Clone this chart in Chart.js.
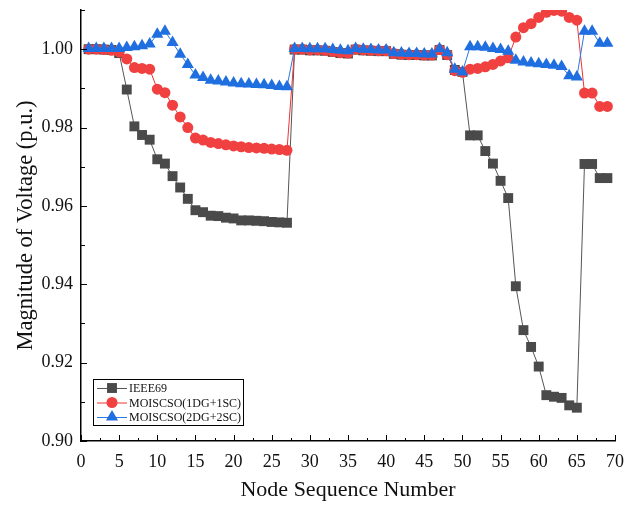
<!DOCTYPE html>
<html>
<head>
<meta charset="utf-8">
<script src="https://cdn.jsdelivr.net/npm/chart.js@4/dist/chart.umd.min.js"></script>
<style>
  html, body { margin: 0; padding: 0; background: #fff; }
  #wrap { width: 635px; height: 507px; }
</style>
</head>
<body>
<div id="wrap"><canvas id="voltage"></canvas></div>
<script>
var nodes = [1,2,3,4,5,6,7,8,9,10,11,12,13,14,15,16,17,18,19,20,21,22,23,24,25,26,27,28,29,30,
  31,32,33,34,35,36,37,38,39,40,41,42,43,44,45,46,47,48,49,50,51,52,53,54,55,56,57,58,59,60,
  61,62,63,64,65,66,67,68,69];

var ieee69 = [1.0000,1.0000,0.9999,0.9998,0.9990,0.9897,0.9803,0.9781,0.9769,0.9719,
  0.9708,0.9676,0.9647,0.9618,0.9589,0.9584,0.9575,0.9574,0.9570,0.9568,
  0.9563,0.9563,0.9562,0.9561,0.9559,0.9558,0.9557,0.9999,0.9999,0.9997,
  0.9997,0.9996,0.9993,0.9990,0.9989,0.9999,0.9997,0.9996,0.9995,0.9995,
  0.9988,0.9986,0.9985,0.9985,0.9984,0.9984,0.9998,0.9985,0.9947,0.9942,
  0.9780,0.9780,0.9740,0.9708,0.9664,0.9620,0.9395,0.9283,0.9240,0.9190,
  0.9117,0.9113,0.9110,0.9091,0.9085,0.9707,0.9707,0.9671,0.9671];

var dg1sc1 = [1.0000,1.0000,0.9999,0.9997,0.9993,0.9975,0.9953,0.9951,0.9949,0.9898,
  0.9889,0.9857,0.9827,0.9800,0.9773,0.9768,0.9762,0.9759,0.9756,0.9753,
  0.9751,0.9749,0.9748,0.9747,0.9745,0.9744,0.9742,1.0000,1.0000,0.9998,
  0.9998,0.9997,0.9994,0.9991,0.9990,1.0000,0.9998,0.9997,0.9996,0.9996,
  0.9989,0.9987,0.9986,0.9986,0.9985,0.9985,0.9999,0.9986,0.9945,0.9941,
  0.9949,0.9951,0.9955,0.9961,0.9970,0.9978,1.0031,1.0055,1.0065,1.0081,
  1.0094,1.0099,1.0097,1.0081,1.0074,0.9888,0.9888,0.9854,0.9854];

var dg2sc2 = [1.0002,1.0002,1.0002,1.0002,1.0002,1.0004,1.0006,1.0009,1.0013,1.0038,
  1.0046,1.0017,0.9987,0.9961,0.9934,0.9928,0.9921,0.9919,0.9916,0.9914,
  0.9912,0.9911,0.9910,0.9909,0.9907,0.9905,0.9904,1.0002,1.0002,1.0001,
  1.0001,1.0001,0.9999,0.9997,0.9996,1.0002,1.0000,0.9999,0.9998,0.9998,
  0.9991,0.9990,0.9989,0.9989,0.9988,0.9988,1.0001,0.9991,0.9949,0.9942,
  1.0006,1.0006,1.0005,1.0002,0.9999,0.9995,0.9972,0.9967,0.9965,0.9963,
  0.9961,0.9959,0.9956,0.9932,0.9929,1.0046,1.0046,1.0015,1.0015];

var xTicks = [0,5,10,15,20,25,30,35,40,45,50,55,60,65,70];
var yTicks = [0.90,0.92,0.94,0.96,0.98,1.00];

var serif = "'Times New Roman', 'Liberation Serif', serif";

function pairs(vals) {
  return nodes.map(function (n, i) { return { x: n, y: vals[i] }; });
}

// inward tick marks, major and minor
var tickMarks = {
  id: 'tickMarks',
  afterDraw: function (chart) {
    var ctx = chart.ctx, xs = chart.scales.x, ys = chart.scales.y;
    var area = chart.chartArea;
    ctx.save();
    ctx.strokeStyle = '#000';
    ctx.lineWidth = 1;
    ctx.beginPath();
    for (var v = 0; v <= 70; v += 2.5) {
      var px = Math.round(xs.getPixelForValue(v)) + 0.5;
      var len = (v % 5 === 0) ? 6 : 3;
      ctx.moveTo(px, area.bottom);
      ctx.lineTo(px, area.bottom - len);
    }
    for (var k = 0; k <= 11; k++) {
      var py = Math.round(ys.getPixelForValue(0.90 + k * 0.01)) + 0.5;
      var l = (k % 2 === 0) ? 6 : 4;
      ctx.moveTo(area.left, py);
      ctx.lineTo(area.left + l, py);
    }
    ctx.stroke();
    ctx.restore();
  }
};

function marker(ctx, style, x, y, r) {
  ctx.beginPath();
  if (style === 'rect') {
    var s = r * Math.SQRT1_2;
    ctx.rect(x - s, y - s, 2 * s, 2 * s);
  } else if (style === 'triangle') {
    ctx.moveTo(x, y - r);
    ctx.lineTo(x + r * 0.866, y + r * 0.5);
    ctx.lineTo(x - r * 0.866, y + r * 0.5);
    ctx.closePath();
  } else {
    ctx.arc(x, y, r, 0, Math.PI * 2);
  }
  ctx.fill();
}

// legend box inside the plot, lower left
var boxLegend = {
  id: 'boxLegend',
  afterDatasetsDraw: function (chart) {
    var ctx = chart.ctx;
    var area = chart.chartArea;
    var bx = area.left + 12, by = area.bottom - 62, bw = 150, bh = 46;
    ctx.save();
    ctx.fillStyle = '#fff';
    ctx.fillRect(bx, by, bw, bh);
    ctx.strokeStyle = '#000';
    ctx.lineWidth = 1;
    ctx.strokeRect(bx + 0.5, by + 0.5, bw, bh);
    ctx.font = '12px ' + serif;
    ctx.textBaseline = 'middle';
    chart.data.datasets.forEach(function (ds, i) {
      var cy = by + 9 + i * 14.5;
      ctx.strokeStyle = ds.borderColor;
      ctx.beginPath();
      ctx.moveTo(bx + 4, cy + 0.5);
      ctx.lineTo(bx + 34, cy + 0.5);
      ctx.stroke();
      ctx.fillStyle = ds.pointBackgroundColor;
      marker(ctx, ds.pointStyle, bx + 19, cy, ds.pointRadius);
      ctx.fillStyle = '#111';
      ctx.fillText(ds.label, bx + 36, cy + 1);
    });
    ctx.restore();
  }
};

var ctx = document.getElementById('voltage').getContext('2d');
var config = {
  type: 'line',
  data: {
    datasets: [{
      label: 'IEEE69',
      data: pairs(ieee69),
      borderColor: '#555555',
      borderWidth: 1,
      pointStyle: 'rect',
      pointRadius: 7,
      pointBackgroundColor: '#4a4a4a',
      pointBorderWidth: 0,
      order: 2,
      clip: 0
    }, {
      label: 'MOISCSO(1DG+1SC)',
      data: pairs(dg1sc1),
      borderColor: '#ee3333',
      borderWidth: 1,
      pointStyle: 'circle',
      pointRadius: 5.5,
      pointBackgroundColor: '#f04040',
      pointBorderWidth: 0,
      order: 1,
      clip: 0
    }, {
      label: 'MOISCSO(2DG+2SC)',
      data: pairs(dg2sc2),
      borderColor: '#2a78e0',
      borderWidth: 1,
      pointStyle: 'triangle',
      pointRadius: 7,
      pointBackgroundColor: '#1f6fe0',
      pointBorderWidth: 0,
      order: 0,
      clip: 0
    }]
  },
  options: {
    responsive: true,
    maintainAspectRatio: false,
    animation: false,
    layout: { padding: { top: 10, right: 20, left: 0, bottom: 0 } },
    plugins: { legend: { display: false }, tooltip: { enabled: false } },
    scales: {
      x: {
        type: 'linear',
        min: 0,
        max: 70,
        afterFit: function (s) { s.height = 66; s.paddingLeft = 0; s.paddingRight = 0; },
        afterBuildTicks: function (s) { s.ticks = xTicks.map(function (v) { return { value: v }; }); },
        grid: { display: false, drawTicks: false },
        border: { display: true, color: '#000', width: 1.5 },
        ticks: { color: '#111', font: { family: serif, size: 18 }, padding: 10, maxRotation: 0 },
        title: { display: true, text: 'Node Sequence Number', color: '#111',
          font: { family: serif, size: 22 }, padding: { top: 0, bottom: 4 } }
      },
      y: {
        type: 'linear',
        min: 0.90,
        max: 1.01,
        afterFit: function (s) { s.width = 81; s.paddingTop = 0; s.paddingBottom = 0; },
        afterBuildTicks: function (s) { s.ticks = yTicks.map(function (v) { return { value: v }; }); },
        grid: { display: false, drawTicks: false },
        border: { display: true, color: '#000', width: 1.5 },
        ticks: { color: '#111', font: { family: serif, size: 18 }, padding: 8,
          callback: function (v) { return v.toFixed(2); } },
        title: { display: true, text: 'Magnitude of Voltage (p.u.)', color: '#111',
          font: { family: serif, size: 22.5 }, padding: { top: 13, bottom: 0 } }
      }
    }
  },
  plugins: [tickMarks, boxLegend]
};

var chart = new Chart(ctx, config);
</script>
</body>
</html>
